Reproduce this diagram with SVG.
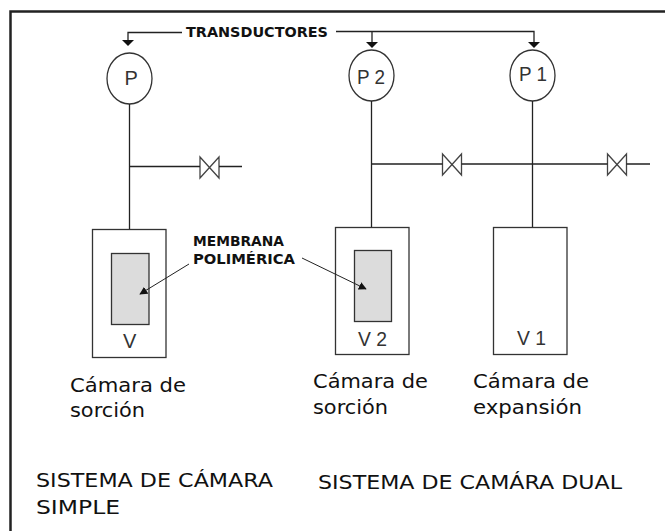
<svg xmlns="http://www.w3.org/2000/svg" width="665" height="531" viewBox="0 0 665 531">
<style>
.l{fill:none;stroke:#222;stroke-width:1.3}
.v{fill:#fff;stroke:#444;stroke-width:1.3}
.c{fill:#fff;stroke:#333;stroke-width:1.3}
.b{fill:#fff;stroke:#333;stroke-width:1.3}
.m{fill:#dcdcdc;stroke:#333;stroke-width:1.3}
.h{fill:#111}
text{font-family:"Liberation Sans",Arial,sans-serif;fill:#333}
.t{font-family:"DejaVu Sans",Verdana,sans-serif;font-size:20px;fill:#111}
.k{font-family:"DejaVu Sans",Verdana,sans-serif;font-size:13.500px;font-weight:bold;fill:#111}
.n{font-size:20px}
</style>
<defs>
<marker id="a" viewBox="0 0 10 10" refX="9" refY="5" markerWidth="8" markerHeight="8" markerUnits="userSpaceOnUse" orient="auto"><path d="M0 0L10 5L0 10Z" fill="#111"/></marker>
</defs>
<path id="frame" d="M10.500 531V11.500H665" fill="none" stroke="#222" stroke-width="2.500"/>
<g id="valve1"><path class="v" d="M200 157L219 178V157L200 178Z"/></g>
<g id="valve2"><path class="v" d="M442.500 154L461.500 175V154L442.500 175Z"/></g>
<g id="valve3"><path class="v" d="M607.500 154L626.500 175V154L607.500 175Z"/></g>
<g id="p"><ellipse class="c" cx="129.500" cy="78.500" rx="22.500" ry="25.500"/><text class="n" x="124.500" y="85">P</text></g>
<g id="p2"><ellipse class="c" cx="371.500" cy="75.500" rx="22.500" ry="25.500"/><text class="n" x="357" y="84" textLength="28" lengthAdjust="spacingAndGlyphs">P 2</text></g>
<g id="p1"><ellipse class="c" cx="532.500" cy="75.500" rx="22.500" ry="25.500"/><text class="n" x="519" y="81" textLength="28" lengthAdjust="spacingAndGlyphs">P 1</text></g>
<g id="chamber-v"><rect class="b" x="92.500" y="229.500" width="73.500" height="128"/><rect class="m" x="111.500" y="253.500" width="37.500" height="71"/><text class="n" x="123" y="348">V</text></g>
<g id="chamber-v2"><rect class="b" x="335.500" y="227.500" width="73.500" height="127"/><rect class="m" x="354.500" y="250.500" width="37" height="71"/><text class="n" x="358" y="346" textLength="29" lengthAdjust="spacingAndGlyphs">V 2</text></g>
<g id="chamber-v1"><rect class="b" x="493.500" y="227.500" width="73.500" height="127"/><text class="n" x="517" y="345" textLength="29" lengthAdjust="spacingAndGlyphs">V 1</text></g>
<g id="connectors">
<path class="l" d="M182 32.500H128V40"/>
<path class="l" d="M336 31.500H534V43M372 31.500V43"/>
<path class="h" d="M122 40H134L128 46Z"/>
<path class="h" d="M366 42H378L372 48Z"/>
<path class="h" d="M528 42H540L534 48Z"/>
<path class="l" d="M129.500 104V229M129.500 166.500H200M219 166.500H242"/>
<path class="l" d="M371.500 101V227M371.500 164H442.500M461.500 164H607.500M626.500 164H650M532.500 101V227"/>
<path class="l" d="M189 264L140 294" marker-end="url(#a)" style="stroke-width:1"/>
<path class="l" d="M302 258L366 289" marker-end="url(#a)" style="stroke-width:1"/>
</g>
<g id="labels">
<text class="k" x="186" y="37" textLength="142" lengthAdjust="spacingAndGlyphs">TRANSDUCTORES</text>
<text class="k" x="193" y="246" textLength="91" lengthAdjust="spacingAndGlyphs">MEMBRANA</text>
<text class="k" x="193" y="264" textLength="102" lengthAdjust="spacingAndGlyphs">POLIMÉRICA</text>
<text class="t" x="70" y="392" textLength="116" lengthAdjust="spacingAndGlyphs">Cámara de</text>
<text class="t" x="70" y="417" textLength="75" lengthAdjust="spacingAndGlyphs">sorción</text>
<text class="t" x="313" y="388" textLength="115" lengthAdjust="spacingAndGlyphs">Cámara de</text>
<text class="t" x="313" y="414" textLength="75" lengthAdjust="spacingAndGlyphs">sorción</text>
<text class="t" x="473" y="388" textLength="116" lengthAdjust="spacingAndGlyphs">Cámara de</text>
<text class="t" x="473" y="414" textLength="109" lengthAdjust="spacingAndGlyphs">expansión</text>
<text class="t" x="36" y="487" textLength="237" lengthAdjust="spacingAndGlyphs">SISTEMA DE CÁMARA</text>
<text class="t" x="36" y="514" textLength="84" lengthAdjust="spacingAndGlyphs">SIMPLE</text>
<text class="t" x="318" y="489" textLength="304" lengthAdjust="spacingAndGlyphs">SISTEMA DE CAMÁRA DUAL</text>
</g>
</svg>
